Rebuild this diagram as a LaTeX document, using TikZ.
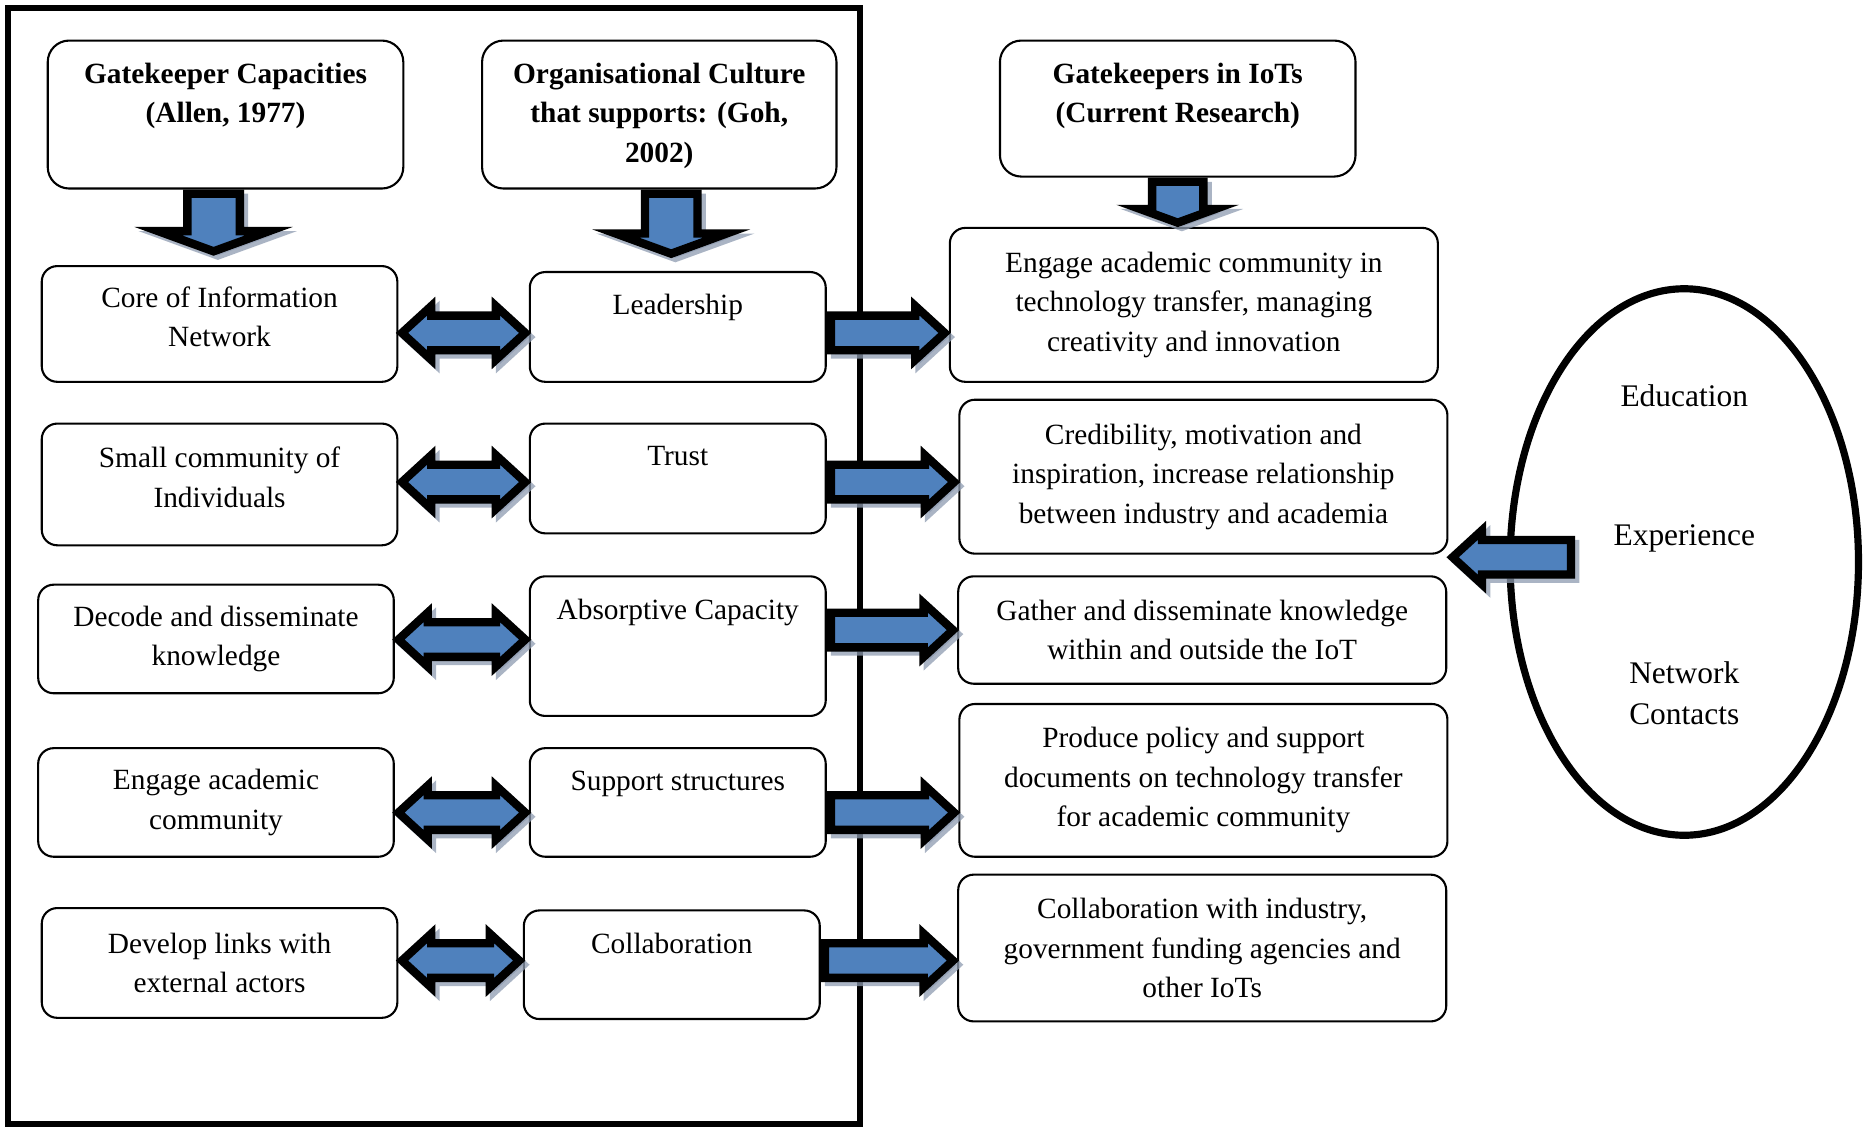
\documentclass[tikz,border=0pt]{standalone}
\usepackage{fontspec}
\setmainfont{Liberation Serif}
\usepackage{tikz}
\usetikzlibrary{calc,shapes.geometric,shapes.arrows,shadows}
\definecolor{boxLine}{HTML}{000000}
\definecolor{frameBlack}{HTML}{000000}
\definecolor{arrowBlue}{HTML}{4F81BD}
\definecolor{arrowShadow}{HTML}{8E9BB0}
\newcommand{\gkfont}{\fontsize{7}{9.4}\selectfont}
\newcommand{\ovalfont}{\fontsize{7.5}{9.7}\selectfont}
\newcommand{\tailgap}{\rule[-1.2mm]{0pt}{0pt}}
% fat single arrow from #2 to #3
\newcommand{\blockarrow}[3]{%
  \path let \p1=($#3-#2$), \n1={veclen(\x1,\y1)}, \n2={atan2(\y1,\x1)} in
    node[#1, anchor=tail, minimum height=\n1-0.07cm, rotate=\n2] at #2 {};}
% fat double arrow between #2 and #3
\newcommand{\twinarrow}[3]{%
  \path let \p1=($#3-#2$), \n1={veclen(\x1,\y1)} in
    node[#1, minimum height=\n1-0.06cm] at ($#2!0.5!#3$) {};}
\tikzset{
  gkbox/.style 2 args={rectangle, rounded corners=1.3mm, draw=boxLine, line width=0.5pt, minimum width=#1, minimum height=#2, align=center, font=\gkfont, inner sep=1pt},
  headbox/.style 2 args={gkbox={#1}{#2}, rounded corners=1.8mm},
  toptext/.style={anchor=north, align=center, font=\gkfont, inner sep=0pt, yshift=-0.19cm},
  headtext/.style={toptext, font=\gkfont\bfseries},
  ovalbox/.style={ellipse, draw=boxLine, line width=0.06cm, align=center, font=\ovalfont, minimum width=2.92cm, minimum height=4.58cm, inner sep=0pt},
  groupframe/.style={draw=frameBlack, line width=0.05cm},
  % --- block arrows ---
  blockbase/.style={fill=arrowBlue, draw=black, line width=0.07cm, inner xsep=0pt,
    general shadow={shadow xshift=0.035cm, shadow yshift=-0.035cm, fill=arrowShadow, draw=arrowShadow, opacity=0.75}},
  sideblock/.style={blockbase, single arrow, inner ysep=0.11cm, single arrow head extend=0.08cm, single arrow tip angle=85},
  twinblock/.style={blockbase, double arrow, inner ysep=0.11cm, double arrow head extend=0.08cm, double arrow tip angle=85},
  downblock/.style={blockbase, single arrow, inner ysep=0.185cm, single arrow head extend=0.245cm, single arrow tip angle=140},
}

\begin{document}
\begin{tikzpicture}[x=1cm,y=1cm]
  \useasboundingbox (0,0) rectangle (15.68,9.44);
  \draw[groupframe] (0.067,0.02) rectangle (7.207,9.373);

  % headings
  \node[headbox={2.98cm}{1.24cm}, label={[headtext]north:{Gatekeeper Capacities\\(Allen, 1977)}}]
    (gc) at (1.89,8.48) {};
  \node[headbox={2.97cm}{1.24cm}, label={[headtext]north:{Organisational Culture\\that supports: (Goh,\\2002)}}]
    (oc) at (5.525,8.48) {};
  \node[headbox={2.98cm}{1.14cm}, label={[headtext]north:{Gatekeepers in IoTs\\(Current Research)}}]
    (gi) at (9.87,8.53) {};

  % gatekeeper capacities
  \node[gkbox={2.98cm}{0.97cm}] (l1) at (1.84,6.725) {Core of Information\\Network\tailgap};
  \node[gkbox={2.98cm}{1.02cm}] (l2) at (1.84,5.38) {Small community of\\Individuals\tailgap};
  \node[gkbox={2.98cm}{0.91cm}] (l3) at (1.81,4.085) {Decode and disseminate\\knowledge};
  \node[gkbox={2.98cm}{0.91cm}] (l4) at (1.81,2.715) {Engage academic\\community};
  \node[gkbox={2.98cm}{0.92cm}] (l5) at (1.84,1.37) {Develop links with\\external actors};

  % organisational culture
  \node[gkbox={2.48cm}{0.92cm}, label={[toptext]north:Leadership}] (m1) at (5.68,6.70) {};
  \node[gkbox={2.48cm}{0.92cm}, label={[toptext]north:Trust}] (m2) at (5.68,5.43) {};
  \node[gkbox={2.48cm}{1.17cm}, label={[toptext]north:Absorptive Capacity}] (m3) at (5.68,4.025) {};
  \node[gkbox={2.48cm}{0.91cm}, label={[toptext]north:Support structures}] (m4) at (5.68,2.715) {};
  \node[gkbox={2.48cm}{0.91cm}, label={[toptext]north:Collaboration}] (m5) at (5.63,1.355) {};

  % gatekeepers in IoTs
  \node[gkbox={4.09cm}{1.29cm}] (r1) at (10.005,6.885)
    {Engage academic community in\\technology transfer, managing\\creativity and innovation};
  \node[gkbox={4.09cm}{1.29cm}] (r2) at (10.085,5.445)
    {Credibility, motivation and\\inspiration, increase relationship\\between industry and academia};
  \node[gkbox={4.09cm}{0.90cm}] (r3) at (10.075,4.16)
    {Gather and disseminate knowledge\\within and outside the IoT};
  \node[gkbox={4.09cm}{1.28cm}] (r4) at (10.085,2.90)
    {Produce policy and support\\documents on technology transfer\\for academic community};
  \node[gkbox={4.09cm}{1.23cm}] (r5) at (10.075,1.495)
    {Collaboration with industry,\\government funding agencies and\\other IoTs};

  \node[ovalbox] (oval) at (14.115,4.73)
    {Education\\[0.82cm]Experience\\[0.82cm]Network\\Contacts\tailgap};

  % arrow rows
  \coordinate (row1) at (0,6.65);
  \coordinate (row2) at (0,5.40);
  \coordinate (row3) at (0,4.08);
  \coordinate (row4) at (0,2.63);
  \coordinate (row5) at (0,1.39);
  \coordinate (gcFoot) at ($(gc.south)+(-0.1,0)$);
  \coordinate (gcTip) at ($(gcFoot |- l1.north)+(0,0.08)$);
  \coordinate (ocFoot) at ($(oc.south)+(0.1,0)$);
  \coordinate (ocTip) at ($(ocFoot |- m1.north)+(0,0.11)$);
  \coordinate (ovalTail) at (13.2,4.77);

  \blockarrow{downblock}{(gcFoot)}{(gcTip)}
  \blockarrow{downblock}{(ocFoot)}{(ocTip)}
  \blockarrow{downblock, inner ysep=0.18cm, single arrow head extend=0.1cm}{(gi.south)}{(gi.south |- r1.north)}

  \twinarrow{twinblock}{(l1.east |- row1)}{(m1.west |- row1)}
  \twinarrow{twinblock}{(l2.east |- row2)}{(m2.west |- row2)}
  \twinarrow{twinblock}{(l3.east |- row3)}{(m3.west |- row3)}
  \twinarrow{twinblock}{(l4.east |- row4)}{(m4.west |- row4)}
  \twinarrow{twinblock}{(l5.east |- row5)}{(m5.west |- row5)}

  \blockarrow{sideblock}{(m1.east |- row1)}{(r1.west |- row1)}
  \blockarrow{sideblock}{(m2.east |- row2)}{(r2.west |- row2)}
  \blockarrow{sideblock}{(m3.east |- r3.west)}{(r3.west)}
  \blockarrow{sideblock}{(m4.east |- row4)}{(r4.west |- row4)}
  \blockarrow{sideblock}{(m5.east |- row5)}{(r5.west |- row5)}

  \blockarrow{sideblock}{(ovalTail)}{(ovalTail -| r2.east)}
\end{tikzpicture}
\end{document}
